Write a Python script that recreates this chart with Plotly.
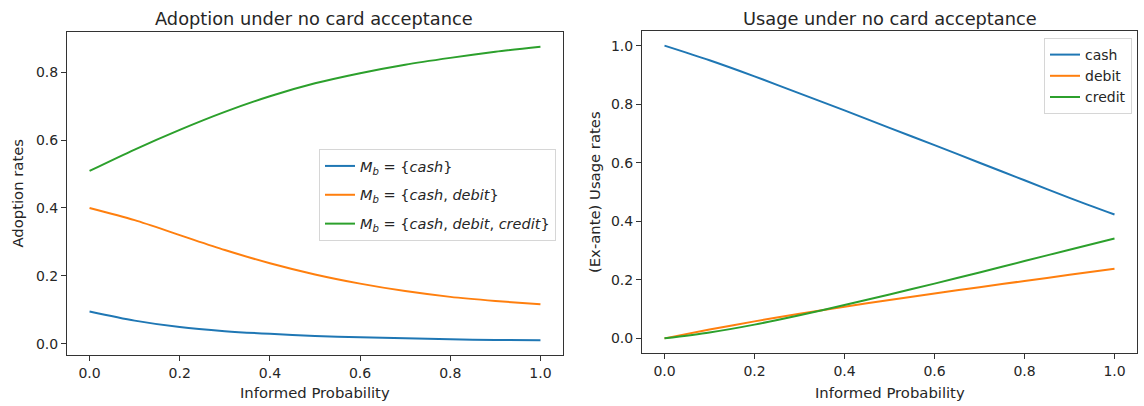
import plotly.graph_objects as go

# Informed probability grid
informed_prob = [0.0, 0.1, 0.2, 0.3, 0.4, 0.5, 0.6, 0.7, 0.8, 0.9, 1.0]

# Adoption rates by payment-method bundle
adopt_cash = [0.095, 0.068, 0.049, 0.037, 0.029, 0.023, 0.019, 0.016, 0.013, 0.011, 0.010]
adopt_cash_debit = [0.400, 0.364, 0.320, 0.276, 0.237, 0.204, 0.177, 0.155, 0.138, 0.126, 0.116]
adopt_cash_debit_credit = [0.509, 0.572, 0.630, 0.683, 0.729, 0.767, 0.797, 0.822, 0.842, 0.860, 0.875]

# (Ex-ante) usage rates by payment method
usage_cash = [1.000, 0.950, 0.895, 0.837, 0.779, 0.719, 0.660, 0.600, 0.540, 0.480, 0.423]
usage_debit = [0.000, 0.030, 0.058, 0.084, 0.108, 0.131, 0.153, 0.175, 0.196, 0.217, 0.238]
usage_credit = [0.000, 0.020, 0.047, 0.079, 0.114, 0.150, 0.187, 0.225, 0.264, 0.303, 0.341]

adopt_labels = [
    "<i>M</i><sub><i>b</i></sub> = {<i>cash</i>}",
    "<i>M</i><sub><i>b</i></sub> = {<i>cash</i>, <i>debit</i>}",
    "<i>M</i><sub><i>b</i></sub> = {<i>cash</i>, <i>debit</i>, <i>credit</i>}",
]
usage_labels = ["cash", "debit", "credit"]
tick_vals_x = [0.0, 0.2, 0.4, 0.6, 0.8, 1.0]
tick_vals_adopt = [0.0, 0.2, 0.4, 0.6, 0.8]
tick_vals_usage = [0.0, 0.2, 0.4, 0.6, 0.8, 1.0]

COLORS = ["#1f77b4", "#ff7f0e", "#2ca02c"]
FONT = "DejaVu Sans"
TEXT = "#262626"
W, H = 1144, 406


def px_x(p):
    return p / W


def px_y(p):
    return 1 - p / H


def padded(values, frac=0.05):
    lo, hi = min(values), max(values)
    m = (hi - lo) * frac
    return [lo - m, hi + m]


fig = go.Figure()

for i, (ys, name) in enumerate(zip([adopt_cash, adopt_cash_debit, adopt_cash_debit_credit], adopt_labels)):
    fig.add_trace(go.Scatter(
        x=informed_prob, y=ys, name=name, mode="lines",
        line=dict(color=COLORS[i], width=2, shape="spline", smoothing=0.8),
        xaxis="x", yaxis="y", legend="legend", legendgroup=f"a{i}",
    ))

for i, (ys, name) in enumerate(zip([usage_cash, usage_debit, usage_credit], usage_labels)):
    fig.add_trace(go.Scatter(
        x=informed_prob, y=ys, name=name, mode="lines",
        line=dict(color=COLORS[i], width=2, shape="spline", smoothing=0.8),
        xaxis="x2", yaxis="y2", legend="legend2", legendgroup=f"u{i}",
    ))

axis_style = dict(
    showline=True, mirror=True, linecolor="#333", linewidth=1,
    ticks="outside", ticklen=5, tickwidth=1, tickcolor="#333",
    showgrid=False, zeroline=False,
    tickfont=dict(family=FONT, size=14, color=TEXT),
    tickformat=".1f",
)

all_adopt = adopt_cash + adopt_cash_debit + adopt_cash_debit_credit
all_usage = usage_cash + usage_debit + usage_credit

fig.update_layout(
    width=W, height=H,
    margin=dict(l=0, r=0, t=0, b=0),
    paper_bgcolor="white", plot_bgcolor="white",
    font=dict(family=FONT, size=14, color=TEXT),
    xaxis=dict(axis_style, domain=[px_x(67), px_x(563)], range=padded(informed_prob),
               tickvals=tick_vals_x, anchor="y"),
    yaxis=dict(axis_style, domain=[px_y(355), px_y(32)], range=padded(all_adopt),
               tickvals=tick_vals_adopt, anchor="x"),
    xaxis2=dict(axis_style, domain=[px_x(642), px_x(1137)], range=padded(informed_prob),
                tickvals=tick_vals_x, anchor="y2"),
    yaxis2=dict(axis_style, domain=[px_y(353), px_y(31)], range=padded(all_usage),
                tickvals=tick_vals_usage, anchor="x2"),
    legend=dict(
        x=px_x(556), xanchor="right", y=px_y(149), yanchor="top",
        bgcolor="rgba(255,255,255,0.8)", bordercolor="#d6d6d6", borderwidth=1,
        font=dict(family=FONT, size=14.5, color=TEXT), tracegroupgap=7,
    ),
    legend2=dict(
        x=px_x(1132), xanchor="right", y=px_y(38), yanchor="top",
        bgcolor="rgba(255,255,255,0.8)", bordercolor="#d6d6d6", borderwidth=1,
        font=dict(family=FONT, size=14, color=TEXT), tracegroupgap=0,
    ),
    showlegend=True,
)

annotations = [
    dict(text="Adoption under no card acceptance", x=px_x(314), y=px_y(18), size=17.8),
    dict(text="Usage under no card acceptance", x=px_x(889.5), y=px_y(18), size=17.8),
    dict(text="Informed Probability", x=px_x(315), y=px_y(392), size=14.8),
    dict(text="Informed Probability", x=px_x(889.5), y=px_y(392), size=14.8),
    dict(text="Adoption rates", x=px_x(17), y=px_y(193.5), textangle=-90, size=14.8),
    dict(text="(Ex-ante) Usage rates", x=px_x(594), y=px_y(192), textangle=-90, size=14.8),
]
for a in annotations:
    size = a.pop("size")
    fig.add_annotation(xref="paper", yref="paper", showarrow=False,
                       xanchor="center", yanchor="middle",
                       font=dict(family=FONT, color=TEXT, size=size), **a)

fig.write_html("out.html")
